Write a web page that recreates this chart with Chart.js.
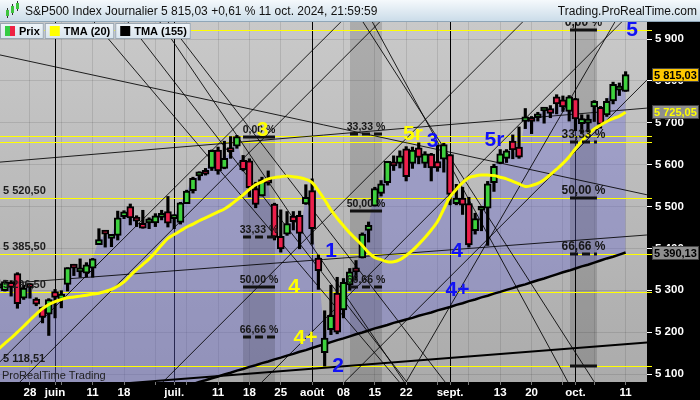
<!DOCTYPE html>
<html>
<head>
<meta charset="utf-8">
<script src="https://cdn.jsdelivr.net/npm/chart.js@4.4.1/dist/chart.umd.min.js"></script>
<style>
html, body { margin: 0; padding: 0; background: #000; }
canvas { display: block; }
</style>
</head>
<body>
<canvas id="chart" width="700" height="400"></canvas>
<script>
// S&P500 journalier, du 20 mai au 11 oct. 2024 (x = numero de la seance)
var jours = ['20/05','21/05','22/05','23/05','24/05','28/05','29/05','30/05','31/05',
  '03/06','04/06','05/06','06/06','07/06','10/06','11/06','12/06','13/06','14/06','17/06','18/06','20/06','21/06','24/06','25/06','26/06','27/06','28/06',
  '01/07','02/07','03/07','05/07','08/07','09/07','10/07','11/07','12/07','15/07','16/07','17/07','18/07','19/07','22/07','23/07','24/07','25/07','26/07','29/07','30/07','31/07',
  '01/08','02/08','05/08','06/08','07/08','08/08','09/08','12/08','13/08','14/08','15/08','16/08','19/08','20/08','21/08','22/08','23/08','26/08','27/08','28/08','29/08','30/08',
  '03/09','04/09','05/09','06/09','09/09','10/09','11/09','12/09','13/09','16/09','17/09','18/09','19/09','20/09','23/09','24/09','25/09','26/09','27/09','30/09',
  '01/10','02/10','03/10','04/10','07/10','08/10','09/10','10/10','11/10'];

var ouv = [5305,5299,5319,5340,5281,5316,5279,5260,5243,
  5297,5278,5314,5358,5344,5341,5353,5409,5442,5424,5431,5476,5500,5467,5460,5461,5461,5474,5488,
  5471,5462,5507,5538,5573,5584,5591,5635,5591,5638,5644,5610,5609,5543,5525,5565,5506,5429,5434,5477,5479,5506,
  5538,5377,5151,5206,5293,5253,5313,5352,5377,5443,5501,5531,5557,5603,5603,5638,5603,5640,5603,5625,5607,5613,
  5624,5507,5520,5507,5442,5491,5496,5557,5603,5615,5656,5642,5703,5709,5712,5728,5734,5762,5755,5727,
  5758,5698,5699,5738,5737,5719,5752,5778,5775];
var haut = [5325,5324,5323,5342,5312,5316,5282,5260,5280,
  5302,5299,5354,5362,5375,5366,5376,5447,5442,5432,5489,5490,5506,5478,5491,5473,5483,5491,5524,
  5480,5510,5539,5570,5583,5591,5635,5642,5656,5667,5670,5622,5614,5558,5570,5585,5508,5492,5488,5488,5489,5552,
  5566,5384,5251,5312,5331,5328,5352,5371,5437,5463,5546,5562,5608,5621,5633,5643,5642,5652,5631,5627,5647,5651,
  5624,5553,5546,5522,5484,5498,5560,5601,5636,5636,5671,5690,5734,5715,5725,5735,5741,5767,5764,5765,
  5758,5719,5719,5753,5739,5758,5797,5795,5822];
var bas = [5302,5298,5286,5257,5278,5281,5263,5222,5192,
  5234,5258,5298,5335,5331,5332,5331,5409,5403,5404,5420,5471,5456,5452,5448,5447,5452,5468,5451,
  5447,5458,5507,5532,5563,5575,5586,5577,5590,5615,5639,5585,5523,5497,5525,5551,5420,5391,5431,5444,5399,5505,
  5410,5302,5119,5194,5196,5234,5300,5324,5377,5415,5501,5525,5551,5586,5592,5561,5591,5602,5593,5561,5584,5582,
  5504,5504,5481,5403,5434,5442,5407,5536,5602,5605,5614,5615,5686,5674,5704,5699,5712,5721,5727,5704,
  5681,5674,5678,5703,5687,5715,5745,5765,5775];
var clot = [5308,5321,5307,5268,5305,5306,5267,5235,5278,
  5283,5291,5354,5353,5347,5361,5375,5421,5434,5432,5473,5487,5473,5465,5448,5469,5478,5483,5460,
  5475,5509,5537,5567,5573,5577,5634,5585,5615,5631,5667,5588,5545,5505,5564,5556,5427,5399,5459,5464,5436,5522,
  5447,5347,5186,5240,5200,5319,5344,5344,5434,5455,5543,5554,5608,5597,5621,5571,5635,5617,5626,5592,5592,5648,
  5529,5520,5503,5408,5471,5496,5554,5596,5626,5633,5635,5618,5714,5703,5719,5733,5722,5745,5738,5762,
  5709,5710,5700,5751,5696,5751,5792,5780,5815.03];

// moyennes triangulaires
var tma20 = [5160,5173,5186,5200,5214,5229,5243,5256,5266,5273,
  5278,5282,5284,5286,5288,5291,5293,5297,5302,5310,
  5320,5335,5349,5362,5375,5391,5408,5424,5433,5442,
  5451,5458,5466,5473,5480,5487,5494,5504,5516,5528,
  5541,5552,5559,5566,5569,5571,5573,5571,5569,5565,
  5557,5538,5516,5492,5472,5454,5437,5422,5407,5390,
  5378,5373,5368,5368,5373,5383,5395,5410,5426,5444,
  5464,5494,5523,5541,5557,5569,5573,5575,5575,5574,
  5570,5566,5560,5554,5548,5550,5555,5564,5576,5589,
  5603,5619,5638,5656,5671,5685,5694,5703,5710,5716,
  5725.05];
var tma155 = [4936,4940,4945,4949,4954,4959,4963,4968,4972,4977,
  4981,4986,4990,4995,4999,5004,5008,5013,5017,5022,
  5026,5031,5035,5040,5044,5049,5053,5058,5062,5067,
  5072,5076,5081,5085,5090,5094,5099,5103,5108,5112,
  5117,5121,5126,5130,5135,5139,5144,5148,5153,5157,
  5162,5167,5171,5176,5181,5185,5190,5195,5199,5204,
  5209,5213,5217,5222,5226,5230,5234,5239,5243,5247,
  5252,5256,5260,5265,5269,5274,5278,5283,5287,5292,
  5296,5301,5305,5310,5314,5319,5324,5328,5333,5338,
  5343,5347,5352,5357,5361,5366,5371,5376,5380,5385,
  5390.13];

// axe des temps
var tickIdx = [5, 9, 15, 20, 28, 35, 40, 45, 50, 55, 60, 65, 72, 80, 85, 92, 100];
var tickTxt = ['28', 'juin', '11', '18', 'juil.', '11', '18', '25', 'août', '08', '15', '22', 'sept.', '13', '20', 'oct.', '11'];
var moisIdx = [9, 28, 50, 72, 92];
var prixTicks = [5100, 5200, 5300, 5400, 5500, 5600, 5700, 5800, 5900];

// niveaux horizontaux (jaunes) et leurs etiquettes
var niveaux = [5922.49, 5668, 5654.5, 5520.5, 5385.5, 5296.5, 5118.51];
var niveauxTxt = ['5 520,50', '5 385,50', '5 296,50', '5 118,51'];
var niveauxPrix = [5520.5, 5385.5, 5296.5, 5118.51];

// retracements : zone [seance debut, seance fin, prix haut, prix bas]
var bandes = [[38.98, 44.08, 5666, 5000], [56.04, 61.15, 6000, 5000], [91.13, 95.43, 6000, 5118.51]];
var fiboGauche = [[5666, '0,00 %', 0], [5426, '33,33 %', 1], [5308, '50,00 %', 0], [5188, '66,66 %', 1]];
var fiboMilieu = [[5673, '33,33 %', 1], [5489, '50,00 %', 0], [5308, '66,66 %', 1]];
var fiboDroite = [[5922.49, '0,00 %', 0], [5654.5, '33,33 %', 1], [5520.5, '50,00 %', 0], [5385.5, '66,66 %', 1], [5118.51, '', 0]];

// comptage des vagues
var vaguesJaunes = [['3', 42.09, 5681.5], ['5r', 66.09, 5671.9], ['4', 47.11, 5306.6], ['4+', 48.94, 5186.1]];
var vaguesBleues = [['1', 53.01, 5393.7], ['2', 54.13, 5119.1], ['3', 69.2, 5656.4], ['4', 73.11, 5392.5],
  ['4+', 73.19, 5299.4], ['5r', 79.09, 5658.8], ['5', 101.02, 5921.5]];

// droites tracees [seance, prix, seance, prix]
var droites = [
  [0.2, 5862, 103.4, 5528],
  [0.2, 5606, 103.4, 5735],
  [0.2, 5315, 103.4, 5432],
  [0.2, 5129, 54.6, 5941],
  [3.4, 5081, 60.8, 5941],
  [26.2, 5081, 83.6, 5941],
  [42.0, 5081, 99.4, 5941],
  [55.2, 5081, 103.4, 5802],
  [65.0, 5081, 98.3, 5941],
  [20.6, 5941, 65.1, 5081],
  [27.0, 5941, 71.2, 5081],
  [15.2, 5941, 63.9, 5081],
  [58.1, 5941, 95.0, 5081],
  [59.6, 5941, 90.8, 5081],
  [25.7, 5941, 64.7, 5081]
];
var support = [20.5, 5078, 103.9, 5176];

var titre = 'S&P500 Index Journalier 5 815,03 +0,61 % 11 oct. 2024, 21:59:59';
var site = 'Trading.ProRealTime.com';

var POLICE = 'Arial, "Liberation Sans", sans-serif';
Chart.defaults.font.family = POLICE;

function fr(v) {
  var s = v.toFixed(2).replace('.', ',');
  return s.charAt(0) + ' ' + s.slice(1);
}

function dessineFibo(ctx, x, y, bande, liste, taille) {
  var x0 = x.getPixelForValue(bande[0]), x1 = x.getPixelForValue(bande[1]);
  var xc = (x0 + x1) / 2;
  ctx.font = 'bold ' + taille + 'px ' + POLICE;
  ctx.textAlign = 'center';
  ctx.textBaseline = 'alphabetic';
  liste.forEach(function (f) {
    var yy = Math.round(y.getPixelForValue(f[0]));
    ctx.strokeStyle = '#111';
    ctx.lineWidth = 3;
    ctx.setLineDash(f[2] ? [8, 4] : []);
    ctx.beginPath();
    ctx.moveTo(x0, yy);
    ctx.lineTo(x1, yy);
    ctx.stroke();
    ctx.setLineDash([]);
    if (f[1]) {
      ctx.fillStyle = '#161616';
      ctx.fillText(f[1], xc, yy - 4);
    }
  });
}

var ecran = {
  id: 'ecran',
  beforeDraw: function (chart) {
    var ctx = chart.ctx, a = chart.chartArea, W = chart.width, H = chart.height;
    ctx.save();
    ctx.fillStyle = '#000';
    ctx.fillRect(0, 0, W, H);
    var g = ctx.createLinearGradient(0, a.top, 0, a.bottom);
    g.addColorStop(0, '#c9c9c9');
    g.addColorStop(1, '#ababab');
    ctx.fillStyle = g;
    ctx.fillRect(a.left, a.top, a.right - a.left, a.bottom - a.top);

    // bandeau du titre
    var h = ctx.createLinearGradient(0, 0, 0, a.top);
    h.addColorStop(0, '#f5f9fc');
    h.addColorStop(1, '#c9dbe8');
    ctx.fillStyle = h;
    ctx.fillRect(0, 0, W, a.top);
    ctx.strokeStyle = '#8fa6b8';
    ctx.lineWidth = 1;
    ctx.beginPath();
    ctx.moveTo(0, a.top - 0.5);
    ctx.lineTo(W, a.top - 0.5);
    ctx.stroke();
    // petite icone bougies
    [[6, 10, 6, '#3ec43e'], [11, 6, 7, '#3ec43e'], [16, 3, 6, '#3ec43e']].forEach(function (b) {
      ctx.fillStyle = '#333';
      ctx.fillRect(b[0] + 1, b[1] - 2, 1, b[2] + 4);
      ctx.fillStyle = b[3];
      ctx.fillRect(b[0], b[1], 3, b[2]);
    });
    ctx.fillStyle = '#111';
    ctx.font = '12px ' + POLICE;
    ctx.textBaseline = 'middle';
    ctx.textAlign = 'left';
    ctx.fillText(titre, 25, 11.5);
    ctx.textAlign = 'right';
    ctx.fillText(site, 697, 11.5);
    ctx.restore();
  },
  beforeDatasetsDraw: function (chart) {
    var ctx = chart.ctx, a = chart.chartArea, x = chart.scales.x, y = chart.scales.y;
    ctx.save();
    ctx.beginPath();
    ctx.rect(a.left, a.top, a.right - a.left, a.bottom - a.top);
    ctx.clip();
    ctx.fillStyle = 'rgba(0,0,0,0.14)';
    bandes.forEach(function (b) {
      var x0 = x.getPixelForValue(b[0]), x1 = x.getPixelForValue(b[1]);
      var y0 = y.getPixelForValue(b[2]), y1 = y.getPixelForValue(b[3]);
      ctx.fillRect(x0, y0, x1 - x0, y1 - y0);
    });
    ctx.strokeStyle = '#ffff00';
    ctx.lineWidth = 1.2;
    niveaux.forEach(function (p) {
      var yy = Math.round(y.getPixelForValue(p)) + 0.5;
      ctx.beginPath();
      ctx.moveTo(a.left, yy);
      ctx.lineTo(a.right, yy);
      ctx.stroke();
    });
    ctx.restore();
  },
  afterDatasetsDraw: function (chart) {
    var ctx = chart.ctx, a = chart.chartArea, x = chart.scales.x, y = chart.scales.y;
    ctx.save();
    ctx.beginPath();
    ctx.rect(a.left, a.top, a.right - a.left, a.bottom - a.top);
    ctx.clip();

    dessineFibo(ctx, x, y, bandes[0], fiboGauche, 10.5);
    dessineFibo(ctx, x, y, bandes[1], fiboMilieu, 10.5);
    dessineFibo(ctx, x, y, bandes[2], fiboDroite, 12);

    ctx.font = 'bold 11px ' + POLICE;
    ctx.textAlign = 'left';
    ctx.textBaseline = 'alphabetic';
    ctx.fillStyle = '#1c1c1c';
    niveauxTxt.forEach(function (t, i) {
      ctx.fillText(t, 3, Math.round(y.getPixelForValue(niveauxPrix[i])) - 4);
    });

    ctx.font = 'bold 21px ' + POLICE;
    ctx.textAlign = 'center';
    ctx.textBaseline = 'middle';
    ctx.fillStyle = '#ffff00';
    vaguesJaunes.forEach(function (v) {
      ctx.fillText(v[0], x.getPixelForValue(v[1]), y.getPixelForValue(v[2]));
    });
    ctx.fillStyle = '#1212f5';
    vaguesBleues.forEach(function (v) {
      ctx.fillText(v[0], x.getPixelForValue(v[1]), y.getPixelForValue(v[2]));
    });

    ctx.font = '11px ' + POLICE;
    ctx.textAlign = 'left';
    ctx.textBaseline = 'alphabetic';
    ctx.fillStyle = '#222';
    ctx.fillText('ProRealTime Trading', 2, a.bottom - 3);
    ctx.restore();
  },
  afterDraw: function (chart) {
    var ctx = chart.ctx, a = chart.chartArea, y = chart.scales.y;
    var n = clot.length - 1;
    ctx.save();
    // reperes jaunes sur l'axe
    ctx.strokeStyle = '#ffff00';
    ctx.lineWidth = 1;
    niveaux.forEach(function (p) {
      var yy = Math.round(y.getPixelForValue(p)) + 0.5;
      ctx.beginPath();
      ctx.moveTo(a.right, yy);
      ctx.lineTo(a.right + 5, yy);
      ctx.stroke();
    });
    // etiquettes des dernieres valeurs
    var etiq = [[tma155[n], '#8e8e8e', '#000'], [tma20[n], '#8e8e8e', '#ffff00'], [clot[n], '#ffc800', '#000']];
    ctx.font = 'bold 11px ' + POLICE;
    ctx.textAlign = 'left';
    ctx.textBaseline = 'middle';
    etiq.forEach(function (e) {
      var yy = Math.round(y.getPixelForValue(e[0]));
      ctx.fillStyle = e[1];
      ctx.fillRect(a.right + 5, yy - 7, 47, 14);
      ctx.strokeStyle = '#444';
      ctx.strokeRect(a.right + 5.5, yy - 6.5, 46, 13);
      ctx.fillStyle = e[2];
      ctx.fillText(fr(e[0]), a.right + 7, yy + 0.5);
    });

    // legende
    var items = [['Prix', null], ['TMA (20)', '#ffff00'], ['TMA (155)', '#000']];
    var xx = 0;
    ctx.font = 'bold 11px ' + POLICE;
    items.forEach(function (it) {
      var w = 19 + ctx.measureText(it[0]).width + 4;
      var g = ctx.createLinearGradient(0, a.top, 0, a.top + 16);
      g.addColorStop(0, '#f1f6fa');
      g.addColorStop(1, '#d9e5ee');
      ctx.fillStyle = g;
      ctx.fillRect(xx, a.top + 1, w, 16);
      ctx.strokeStyle = '#9aa7b2';
      ctx.strokeRect(xx + 0.5, a.top + 1.5, w - 1, 15);
      if (it[1]) {
        ctx.fillStyle = it[1];
        ctx.fillRect(xx + 5, a.top + 4, 10, 10);
      } else {
        ctx.fillStyle = '#33cc44';
        ctx.fillRect(xx + 5, a.top + 4, 5, 10);
        ctx.fillStyle = '#ee2244';
        ctx.fillRect(xx + 10, a.top + 4, 5, 10);
      }
      ctx.fillStyle = '#000';
      ctx.textAlign = 'left';
      ctx.textBaseline = 'middle';
      ctx.fillText(it[0], xx + 19, a.top + 9.5);
      xx += w + 1;
    });
    ctx.restore();
  }
};

var corps = [], meches = [], couleurs = [], ligneClot = [], ligne20 = [], ligne155 = [];
for (var i = 0; i < clot.length; i++) {
  corps.push({ x: i, y: [ouv[i], clot[i]] });
  meches.push({ x: i, y: [bas[i], haut[i]] });
  couleurs.push(clot[i] >= ouv[i] ? '#3ed13e' : '#ec1f4b');
  ligneClot.push({ x: i, y: clot[i] });
  ligne20.push({ x: i, y: tma20[i] });
  ligne155.push({ x: i, y: tma155[i] });
}

var jeux = [
  { type: 'line', label: 'zone', data: ligneClot, borderWidth: 0, pointRadius: 0,
    fill: '+1', backgroundColor: 'rgba(104,104,210,0.38)', order: 10 },
  { type: 'line', label: 'TMA (155)', data: ligne155, borderColor: '#000', borderWidth: 2.5,
    pointRadius: 0, fill: false, order: 3 },
  { type: 'bar', label: 'meches', data: meches, backgroundColor: '#000', barThickness: 2.5,
    grouped: false, order: 2 },
  { type: 'bar', label: 'Prix', data: corps, backgroundColor: couleurs, borderColor: '#000',
    borderWidth: 2, borderSkipped: false, barThickness: 7, grouped: false, minBarLength: 4, order: 1 },
  { type: 'line', label: 'TMA (20)', data: ligne20, borderColor: '#ffff00', borderWidth: 3,
    pointRadius: 0, tension: 0.4, fill: false, order: 0 },
  { type: 'line', label: 'support', data: [{ x: support[0], y: support[1] }, { x: support[2], y: support[3] }],
    borderColor: '#000', borderWidth: 2, pointRadius: 0, fill: false, order: 4 }
];
droites.forEach(function (d) {
  jeux.push({ type: 'line', label: 'droite', data: [{ x: d[0], y: d[1] }, { x: d[2], y: d[3] }],
    borderColor: 'rgba(0,0,0,0.85)', borderWidth: 1, pointRadius: 0, fill: false, order: 5 });
});

new Chart(document.getElementById('chart').getContext('2d'), {
  type: 'bar',
  data: { labels: jours, datasets: jeux },
  options: {
    responsive: false,
    animation: false,
    devicePixelRatio: 1,
    events: [],
    layout: { padding: { top: 22, left: 0, right: 0, bottom: 0 }, autoPadding: false },
    plugins: {
      legend: { display: false },
      tooltip: { enabled: false },
      filler: { drawTime: 'beforeDatasetsDraw' }
    },
    scales: {
      x: {
        type: 'linear',
        min: 0.22,
        max: 103.41,
        offset: false,
        afterBuildTicks: function (s) {
          var v = [];
          for (var k = 5; k <= 100; k += 5) v.push(k);
          moisIdx.forEach(function (m) { if (v.indexOf(m) < 0) v.push(m); });
          v.sort(function (a, b) { return a - b; });
          s.ticks = v.map(function (t) { return { value: t }; });
        },
        afterFit: function (s) { s.height = 18; },
        ticks: {
          autoSkip: false,
          maxRotation: 0,
          padding: 1,
          color: '#fff',
          font: { size: 11.5, weight: 'bold' },
          callback: function (v) {
            var k = tickIdx.indexOf(v);
            return k < 0 ? '' : tickTxt[k];
          }
        },
        grid: {
          offset: false,
          color: function (c) {
            return c.tick && moisIdx.indexOf(c.tick.value) >= 0 ? '#000' : 'rgba(0,0,0,0.1)';
          },
          tickColor: '#777',
          tickLength: 3
        },
        border: { display: false }
      },
      y: {
        position: 'right',
        min: 5080.9,
        max: 5940.6,
        afterBuildTicks: function (s) {
          s.ticks = prixTicks.map(function (t) { return { value: t }; });
        },
        afterFit: function (s) { s.width = 53; },
        ticks: {
          autoSkip: false,
          padding: 3,
          color: '#fff',
          font: { size: 11.5, weight: 'bold' },
          callback: function (v) {
            return Math.floor(v / 1000) + ' ' + String(v % 1000).padStart(3, '0');
          }
        },
        grid: { color: 'rgba(0,0,0,0.1)', tickColor: '#fff', tickLength: 5 },
        border: { display: false }
      }
    }
  },
  plugins: [ecran]
});
</script>
</body>
</html>
